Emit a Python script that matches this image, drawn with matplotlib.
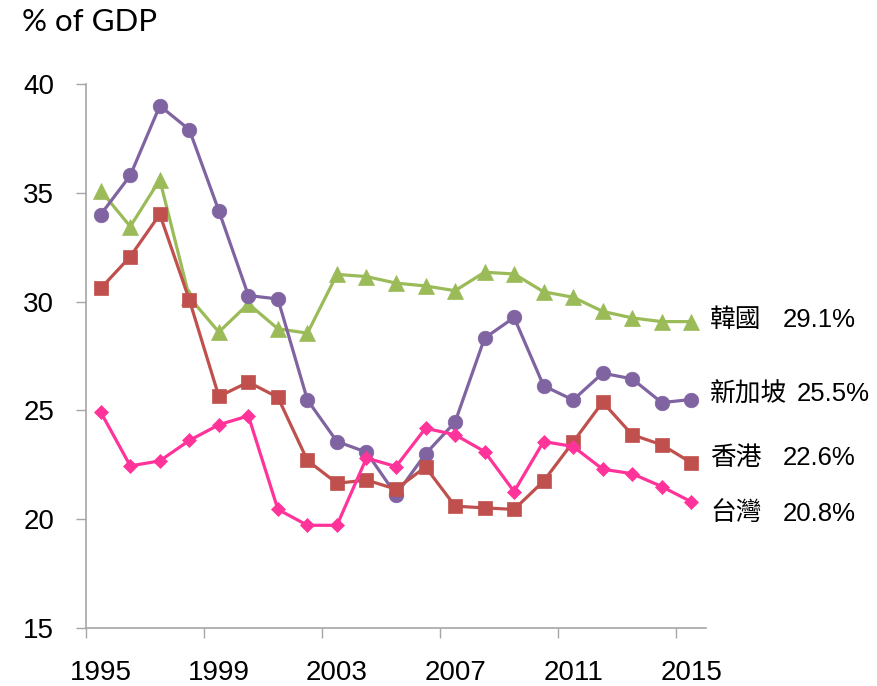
import matplotlib
matplotlib.use("Agg")
import matplotlib.pyplot as plt
import matplotlib.transforms as mtransforms
import numpy as np

years = list(range(1995, 2016))
tick_years = [1995, 1999, 2003, 2007, 2011, 2015]

korea = [35.1, 33.45, 35.6, 30.2, 28.6, 29.9, 28.75, 28.55, 31.25, 31.15, 30.85,
         30.72, 30.5, 31.35, 31.27, 30.45, 30.2, 29.55, 29.25, 29.08, 29.08]
singapore = [34.0, 35.8, 39.0, 37.9, 34.17, 30.28, 30.12, 25.48, 23.57, 23.08, 21.12,
             23.0, 24.46, 28.32, 29.27, 26.13, 25.48, 26.71, 26.45, 25.36, 25.5]
hongkong = [30.61, 32.07, 34.01, 30.08, 25.64, 26.3, 25.6, 22.7, 21.65, 21.8, 21.38,
            22.4, 20.6, 20.52, 20.45, 21.75, 23.55, 25.38, 23.88, 23.42, 22.6]
taiwan = [24.92, 22.45, 22.68, 23.62, 24.34, 24.75, 20.45, 19.72, 19.72, 22.81, 22.42,
          24.18, 23.88, 23.11, 21.27, 23.57, 23.34, 22.3, 22.09, 21.5, 20.8]

names = ["韓國", "新加坡", "香港", "台灣"]
end_labels = ["29.1%", "25.5%", "22.6%", "20.8%"]

fig = plt.figure(figsize=(8.77, 6.86), dpi=100)
ax = fig.add_axes([86/877, 1-628/686, 620/877, 544/686])

x = np.arange(len(years))
styles = [
    (korea, "#9BBB59", "^", 11.5),
    (singapore, "#8064A2", "o", 10.5),
    (hongkong, "#C0504D", "s", 10),
    (taiwan, "#FF3399", "D", 7),
]
for vals, col, mk, ms in styles:
    ax.plot(x, vals, color=col, lw=2.3, marker=mk, ms=ms, mec=col, mew=0.5,
            solid_joinstyle="round")

ax.set_xlim(-0.5, len(years) - 0.5)
ax.set_ylim(15, 40)
ax.set_yticks([15, 20, 25, 30, 35, 40])
ax.set_yticklabels([str(v) for v in [15, 20, 25, 30, 35, 40]],
                   fontsize=20, family="Liberation Sans")

# major ticks between categories (marks), minor at category centers (labels)
ax.set_xticks(np.arange(-0.5, len(years), 4))
ax.set_xticklabels([])
ax.set_xticks([years.index(y) for y in tick_years], minor=True)
ax.set_xticklabels([str(y) for y in tick_years], minor=True,
                   fontsize=20, family="Liberation Sans")
ax.tick_params(axis="x", which="minor", length=0, pad=23)
ax.tick_params(axis="x", which="major", length=7, width=1, color="#A6A6A6",
               direction="out")
ax.tick_params(axis="y", length=7, width=1, color="#A6A6A6", pad=16,
               direction="out")

for s in ["top", "right"]:
    ax.spines[s].set_visible(False)
for s in ["left", "bottom"]:
    ax.spines[s].set_color("#A6A6A6")
    ax.spines[s].set_linewidth(1.2)

trans = mtransforms.blended_transform_factory(ax.transAxes, ax.transData)
label_y = [28.85, 25.41, 22.5, 19.94]
name_x = (710 - 86) / 620
val_x = [(783 - 86) / 620, (797 - 86) / 620, (783 - 86) / 620, (783 - 86) / 620]
for nm, lb, yy, vx in zip(names, end_labels, label_y, val_x):
    ax.text(name_x, yy, nm, transform=trans, fontsize=18.5,
            family=["Noto Sans CJK TC", "DejaVu Sans"], va="baseline",
            ha="left", clip_on=False)
    ax.text(vx, yy, lb, transform=trans, fontsize=18.5,
            family="Liberation Sans", va="baseline", ha="left", clip_on=False)

fig.text(22/877, 1-22/686, "% of GDP", fontsize=22.5, family="Lato",
         va="center", ha="left")

fig.savefig("out.png", dpi=100)
